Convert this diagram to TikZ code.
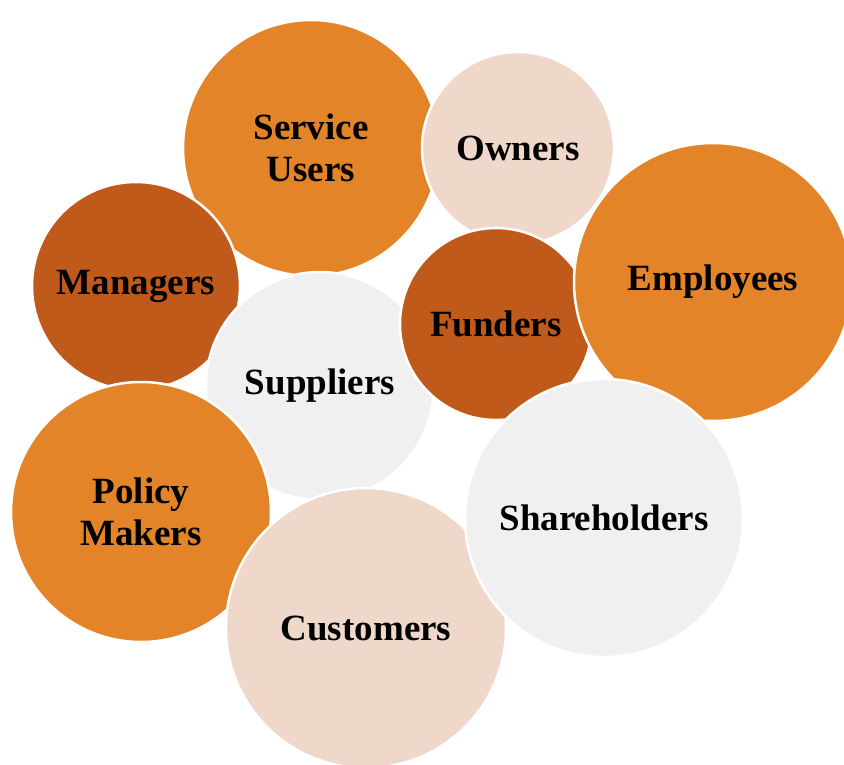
\documentclass[tikz,border=0pt]{standalone}
\usepackage{fontspec}
\setmainfont{Liberation Serif}
\usepackage{xcolor}
\definecolor{BubbleOrange}{HTML}{E48429}
\definecolor{BubbleRust}{HTML}{C05A1B}
\definecolor{BubblePeach}{HTML}{EFD8CA}
\definecolor{BubbleGrey}{HTML}{F0F0F0}
\usepackage{tikz}
\usetikzlibrary{positioning}

\begin{document}
\begin{tikzpicture}[
    x=1pt,y=-1pt,
    bubble/.style={circle,draw=white,line width=2.5pt,inner sep=0pt,
      align=center,text=black,
      font=\fontsize{37}{42}\selectfont\bfseries},
    orange/.style={bubble,fill=BubbleOrange},
    rust/.style={bubble,fill=BubbleRust},
    peach/.style={bubble,fill=BubblePeach},
    grey/.style={bubble,fill=BubbleGrey}
  ]
    \useasboundingbox (0,0) rectangle (844,764);
    % upper row
    \node[orange,minimum size=256pt] (users) at (311,148) {Service\\Users};
    \node[peach,minimum size=192pt] (owners) at (518,148) {Owners};
    \node[rust,minimum size=208pt] (managers) at (136,286) {Managers};
    % middle
    \node[grey,minimum size=228pt] (suppliers) at (320,386) {Suppliers};
    \node[rust,minimum size=192pt] (funders) at (496,324) {Funders};
    \node[orange,minimum size=278pt] (employees) at (713,282) {Employees};
    % lower row
    \node[orange,minimum size=260pt] (policy) at (141,512) {Policy\\Makers};
    \node[peach,minimum size=280pt] (customers) at (366,628) {Customers};
    \node[grey,minimum size=278pt] (holders) at (604,518) {Shareholders};
\end{tikzpicture}
\end{document}
